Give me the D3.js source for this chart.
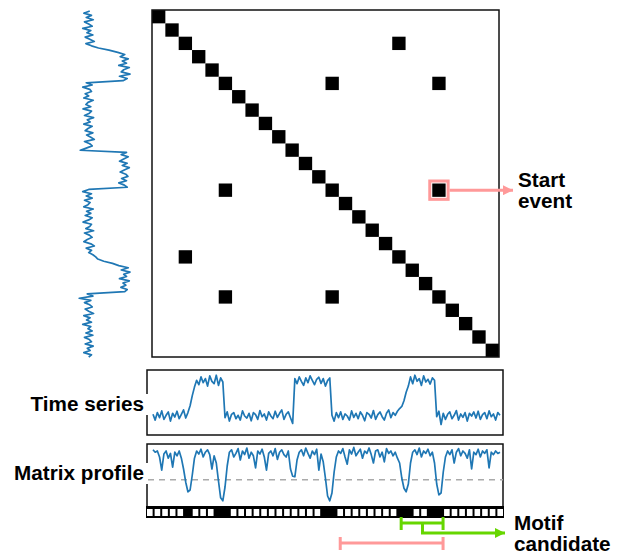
<!DOCTYPE html>
<html lang="en">
  <head>
    <meta charset="UTF-8" />
    <title>Matrix profile sketch</title>
    <script src="https://d3js.org/d3.v7.min.js"></script>
    <style>
      body {
        margin: 0;
        background: #fff;
      }
      svg {
        display: block;
        font-family: "Liberation Sans", Arial, sans-serif;
      }
      .label {
        font-size: 20.7px;
        font-weight: bold;
        fill: #000;
      }
      .frame {
        fill: none;
        stroke: #111;
        stroke-width: 1.5px;
      }
      .series {
        fill: none;
        stroke: #1f77b4;
        stroke-width: 1.7px;
        stroke-linejoin: round;
      }
    </style>
  </head>
  <body>
    <svg id="chart" width="625" height="555"></svg>

    <script>
      // time series, 160 samples (0 = low state, 1 = high state)
      const series = [
        0.05, -0.12, 0.1, -0.05, 0.15, -0.1, 0.02, 0.12, -0.15, 0.08, -0.03, 0.14, -0.08, 0.05, 0.18, -0.06, 0.1,
        0.3, 0.6, 0.85,
        1.05, 0.92, 1.15, 0.98, 1.1, 0.88, 1.18, 1.02, 0.95, 1.2, 0.9, 1.12, 1.0,
        -0.05, 0.12, -0.15, 0.05, 0.1, -0.08, 0.02, -0.12, 0.15, 0.0, -0.06, 0.08, -0.14, 0.1, 0.04, -0.1,
        0.16, -0.02, 0.06, -0.12, 0.12, 0.0, -0.08, 0.14, -0.04, 0.08, 0.18, -0.1, 0.05, 0.12, -0.05, -0.22,
        1.1, 0.95, 1.15, 1.02, 0.9, 1.12, 0.98, 1.18, 1.05, 0.92, 1.08, 1.14, 0.96, 1.1, 0.88, 1.04, 1.12,
        0.02, -0.15, 0.1, -0.05, 0.12, -0.1, 0.06, 0.0, -0.12, 0.15, -0.04, 0.08, -0.08, 0.12, 0.02, -0.14,
        0.1, 0.05, -0.06, 0.16, -0.1, 0.04, 0.12, -0.02, -0.12, 0.08, 0.18, -0.05, 0.1, 0.02, 0.14, 0.22, 0.28,
        0.45, 0.7, 0.88,
        1.15, 0.95, 1.2, 1.02, 1.1, 0.9, 1.18, 1.0, 1.08, 0.94, 1.12, 1.05,
        -0.02, 0.14, -0.25, 0.08, -0.1, 0.05, 0.12, -0.08, 0.02, 0.16, -0.12, 0.06, -0.04, 0.1, -0.15,
        0.08, 0.0, 0.12, -0.06, 0.14, -0.1, 0.04, 0.1, -0.08, 0.15, -0.02, 0.06, -0.12, 0.1, 0.02,
      ];

      // matrix profile (normalised distance), 160 samples
      const profile = [
        0.92, 0.88, 0.9, 0.8, 0.58, 0.85, 0.9, 0.78, 0.86, 0.63, 0.88, 0.82, 0.9, 0.78,
        0.6, 0.38, 0.22, 0.25, 0.5, 0.78,
        0.9, 0.85, 0.93, 0.8, 0.88, 0.92, 0.84, 0.6, 0.82,
        0.7, 0.4, 0.12, 0.07, 0.3, 0.65,
        0.88, 0.92, 0.8, 0.86, 0.94, 0.75, 0.9, 0.84, 0.95, 0.78, 0.88, 0.82, 0.62, 0.9,
        0.85, 0.93, 0.8, 0.58, 0.86, 0.9, 0.82, 0.94, 0.76, 0.88, 0.92, 0.84, 0.8, 0.9,
        0.6, 0.48, 0.47, 0.75,
        0.88, 0.92, 0.82, 0.95, 0.86, 0.78, 0.9, 0.84, 0.93, 0.58, 0.85,
        0.72, 0.45, 0.15, 0.07, 0.2, 0.55, 0.8,
        0.9, 0.86, 0.94, 0.8, 0.68, 0.92, 0.85, 0.96, 0.82, 0.88, 0.93, 0.78, 0.9, 0.86,
        0.95, 0.84, 0.7, 0.9, 0.92, 0.8, 0.88, 0.72, 0.94, 0.86, 0.9, 0.82, 0.88, 0.78,
        0.7, 0.45, 0.28, 0.22, 0.35, 0.7,
        0.88, 0.92, 0.84, 0.95, 0.8, 0.9, 0.86, 0.93, 0.82, 0.88,
        0.7, 0.35, 0.17, 0.2, 0.55, 0.8,
        0.9, 0.84, 0.92, 0.7, 0.88, 0.94, 0.82, 0.9, 0.86, 0.78, 0.92, 0.6, 0.88,
        0.84, 0.93, 0.8, 0.9, 0.86, 0.92, 0.62, 0.88, 0.84, 0.9, 0.86, 0.88,
      ];
      const threshold = 0.42;

      // event matrix: 26 windows, off-diagonal matches [row, col]
      const matrixSize = 26;
      const matchPairs = [
        [2, 18],
        [5, 13],
        [5, 21],
        [13, 21],
      ];
      const startEvent = [13, 21];

      // bottom strip: 47 cells, filled ones are below the threshold
      const stripCells = 47;
      const stripFilled = [5, 9, 10, 23, 24, 33, 34, 37, 38];
      const motifSpan = [33.5, 39]; // green bracket, in strip cells
      const motifMid = 36.3;
      const searchSpan = [25.5, 39]; // pink bar

      const svg = d3.select("#chart");
      const pink = "#ff9999";
      const green = "#66d600";

      // arrow heads
      const defs = svg.append("defs");
      [
        ["head-pink", pink],
        ["head-green", green],
      ].forEach(([id, c]) => {
        defs
          .append("marker")
          .attr("id", id)
          .attr("markerUnits", "userSpaceOnUse")
          .attr("viewBox", "0 0 10 10")
          .attr("refX", 10)
          .attr("refY", 5)
          .attr("markerWidth", 11)
          .attr("markerHeight", 10)
          .attr("orient", "auto")
          .append("path")
          .attr("d", "M0,0 L10,5 L0,10 Z")
          .attr("fill", c);
      });

      // ----------------------------------------------------------------
      // matrix
      // ----------------------------------------------------------------
      const mx = d3.scaleLinear().domain([0, matrixSize]).range([152, 499]);
      const my = d3.scaleLinear().domain([0, matrixSize]).range([10, 357]);

      const cells = d3.range(matrixSize).map((i) => [i, i]);
      matchPairs.forEach(([a, b]) => {
        cells.push([a, b]);
        cells.push([b, a]);
      });

      svg
        .append("g")
        .selectAll("rect")
        .data(cells)
        .join("rect")
        .attr("x", (d) => mx(d[1]))
        .attr("y", (d) => my(d[0]))
        .attr("width", mx(1) - mx(0))
        .attr("height", my(1) - my(0))
        .attr("fill", "#000");

      svg
        .append("rect")
        .attr("class", "frame")
        .attr("x", mx(0))
        .attr("y", my(0))
        .attr("width", mx(matrixSize) - mx(0))
        .attr("height", my(matrixSize) - my(0));

      // vertical copy of the series on the left
      const vy = d3.scaleLinear().domain([0, series.length - 1]).range([11, 357]);
      const vx = d3.scaleLinear().domain([0, 1]).range([88, 123]);
      svg
        .append("path")
        .attr("class", "series")
        .attr(
          "d",
          d3
            .line()
            .x((d) => vx(d))
            .y((d, i) => vy(i))(series)
        );

      // start event highlight
      const [er, ec] = startEvent;
      svg
        .append("rect")
        .attr("x", mx(ec) - 2.5)
        .attr("y", my(er) - 2.5)
        .attr("width", mx(1) - mx(0) + 5)
        .attr("height", my(1) - my(0) + 5)
        .attr("fill", "none")
        .attr("stroke", pink)
        .attr("stroke-width", 3);
      svg
        .append("line")
        .attr("x1", mx(ec + 1) + 4)
        .attr("x2", 513)
        .attr("y1", my(er + 0.5))
        .attr("y2", my(er + 0.5))
        .attr("stroke", pink)
        .attr("stroke-width", 3)
        .attr("marker-end", "url(#head-pink)");

      svg.append("text").attr("class", "label").attr("x", 518).attr("y", 187).text("Start");
      svg.append("text").attr("class", "label").attr("x", 518).attr("y", 208).text("event");

      // ----------------------------------------------------------------
      // time series panel
      // ----------------------------------------------------------------
      const tx = d3.scaleLinear().domain([0, series.length - 1]).range([153, 500]);
      const ty = d3.scaleLinear().domain([0, 1]).range([416, 382]);

      svg.append("rect").attr("class", "frame").attr("x", 147).attr("y", 370).attr("width", 356).attr("height", 65);
      svg
        .append("path")
        .attr("class", "series")
        .attr(
          "d",
          d3
            .line()
            .x((d, i) => tx(i))
            .y((d) => ty(d))(series)
        );

      // ----------------------------------------------------------------
      // matrix profile panel
      // ----------------------------------------------------------------
      const px = d3.scaleLinear().domain([0, profile.length - 1]).range([153, 500]);
      const py = d3.scaleLinear().domain([0, 1]).range([505, 445]);

      svg.append("rect").attr("class", "frame").attr("x", 147).attr("y", 444).attr("width", 356).attr("height", 63);

      // labels with white backing (they cut the left frame)
      function sideLabel(txt, y) {
        const t = svg.append("text").attr("class", "label").attr("x", 144).attr("y", y).attr("text-anchor", "end").text(txt);
        const b = t.node().getBBox();
        svg
          .insert("rect", () => t.node())
          .attr("x", b.x - 2)
          .attr("y", b.y + 2)
          .attr("width", 148.5 - b.x + 2)
          .attr("height", b.height - 2)
          .attr("fill", "#fff");
      }
      sideLabel("Time series", 411);
      sideLabel("Matrix profile", 480);

      svg
        .append("line")
        .attr("x1", 148)
        .attr("x2", 503)
        .attr("y1", py(threshold))
        .attr("y2", py(threshold))
        .attr("stroke", "#aaa")
        .attr("stroke-width", 1.5)
        .attr("stroke-dasharray", "6,5");

      svg
        .append("path")
        .attr("class", "series")
        .attr(
          "d",
          d3
            .line()
            .x((d, i) => px(i))
            .y((d) => py(d))(profile)
        );

      // ----------------------------------------------------------------
      // threshold strip
      // ----------------------------------------------------------------
      const sx = d3.scaleLinear().domain([0, stripCells]).range([146, 504]);
      svg.append("rect").attr("x", sx(0)).attr("y", 506).attr("width", sx(stripCells) - sx(0)).attr("height", 12).attr("fill", "#000");
      svg
        .append("g")
        .selectAll("rect")
        .data(d3.range(stripCells).filter((i) => !stripFilled.includes(i)))
        .join("rect")
        .attr("x", (i) => sx(i) + 1)
        .attr("y", 509)
        .attr("width", sx(1) - sx(0) - 2)
        .attr("height", 7)
        .attr("fill", "#fff");

      // motif candidate bracket
      const g = svg.append("g").attr("stroke", green).attr("stroke-width", 3).attr("fill", "none");
      g.append("path").attr(
        "d",
        `M${sx(motifSpan[0])},517 V530 M${sx(motifSpan[0])},523 H${sx(motifSpan[1])} M${sx(motifSpan[1])},517 V530`
      );
      g.append("path")
        .attr("d", `M${sx(motifMid)},523 V533 H505`)
        .attr("marker-end", "url(#head-green)");

      // search window bar
      svg
        .append("path")
        .attr("stroke", pink)
        .attr("stroke-width", 3)
        .attr("fill", "none")
        .attr(
          "d",
          `M${sx(searchSpan[0])},537 V550 M${sx(searchSpan[0])},543 H${sx(searchSpan[1])} M${sx(searchSpan[1])},537 V550`
        );

      svg.append("text").attr("class", "label").attr("x", 514).attr("y", 530).text("Motif");
      svg.append("text").attr("class", "label").attr("x", 514).attr("y", 551).text("candidate");
    </script>
  </body>
</html>
